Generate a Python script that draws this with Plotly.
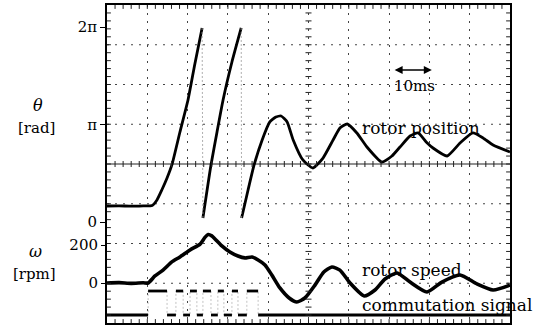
import numpy as np
import plotly.graph_objects as go

PI = np.pi

# ---------------- data ----------------
# time in ms (10 ms / division); rotor position in units of pi (wraps at 2*pi)
theta_t1 = [0, 3, 6, 9, 11.2, 12.4, 13.6, 14.9, 16.1, 18.1, 20.1, 21.8, 23.6]
theta_v1 = [0.164, 0.166, 0.162, 0.165, 0.169, 0.226, 0.328, 0.451, 0.585, 0.923, 1.251, 1.621, 1.990]

theta_t2 = [23.8, 25.8, 27.3, 28.8, 31.0, 33.3]
theta_v2 = [0.041, 0.585, 0.923, 1.251, 1.641, 1.990]

theta_t3 = [33.4, 35.0, 36.5, 38.5, 40.4, 41.9, 43.2, 44.7, 46.2, 48.6, 51.1, 53.6, 56.1,
            57.8, 59.6, 62.0, 64.5, 68.2, 70.7, 72.7, 75.2, 77.2, 79.2, 80.9, 84.4,
            87.6, 90.8, 93.3, 95.8, 100]
theta_v3 = [0.041, 0.328, 0.585, 0.841, 1.026, 1.077, 1.087, 1.026, 0.841, 0.636, 0.554,
            0.656, 0.841, 0.964, 1.005, 0.913, 0.769, 0.615, 0.677, 0.769, 0.882, 0.913,
            0.821, 0.759, 0.677, 0.810, 0.913, 0.862, 0.790, 0.718]

# rotor speed in rpm
speed_t = [0, 3, 6, 9, 10.2, 11.9, 13.9, 16.1, 18.1, 20.6, 23.1, 24.3, 25.1, 26.0, 26.8, 28.5, 30.5,
           32.5, 34.2, 36.0, 37.5, 39.2, 40.9, 42.9, 45.2, 47.1, 49.1, 51.6, 53.8, 55.8,
           57.8, 60.3, 63.8, 66.5, 69.0, 72.0, 75.2, 79.4, 83.1, 87.6, 91.8, 95.8, 100]
speed_v = [0, 2, -2, 1, 0, 37, 68, 111, 137, 174, 205, 240, 255, 248, 232, 195, 163,
           142, 132, 137, 121, 95, 42, -26, -79, -100, -79, -11, 58, 84,
           68, 0, -68, -37, 21, 53, 5, -47, 5, 42, -5, -37, -11]

# commutation signal (digital 0/1); each level holds from its edge time to the next
comm_t = [0, 10.2, 14.9, 17.1, 18.9, 20.6, 22.3, 23.8, 25.8, 27.5, 29.0, 31.0, 32.5, 34.7, 37.5, 100]
comm_v = [0, 1, 0, 1, 0, 1, 0, 1, 0, 1, 0, 1, 0, 1, 0, 0]

theta_ticks = [0, PI, 2 * PI]
theta_ticktext = ["0", "π", "2π"]
speed_ticks = [0, 200]
speed_ticktext = ["0", "200"]

# ---------------- layout constants ----------------
W, H = 538, 326
L, R, T, B = 107, 510, 5, 323       # plot area in pixels
PW, PH = R - L, B - T
FONT = "DejaVu Serif"


def py(ypx):
    return (B - ypx) / PH


def px(xpx):
    return (xpx - L) / PW


fig = go.Figure()

# rotor position
for tt, vv in [(theta_t1, theta_v1), (theta_t2, theta_v2), (theta_t3, theta_v3)]:
    fig.add_trace(go.Scatter(x=tt, y=[v * PI for v in vv], mode="lines",
                             line=dict(color="black", width=2.8, shape="spline", smoothing=0.5),
                             yaxis="y", showlegend=False))
wrap_x = [theta_t1[-1], theta_t2[0], None, theta_t2[-1], theta_t3[0]]
wrap_y = [theta_v1[-1] * PI, theta_v2[0] * PI, None, theta_v2[-1] * PI, theta_v3[0] * PI]
fig.add_trace(go.Scatter(x=wrap_x, y=wrap_y, mode="lines",
                         line=dict(color="#999", width=0.8, dash="2px,2px"),
                         yaxis="y", showlegend=False))

# rotor speed
fig.add_trace(go.Scatter(x=speed_t, y=speed_v, mode="lines",
                         line=dict(color="black", width=3.6, shape="spline", smoothing=0.6),
                         yaxis="y2", showlegend=False))

# commutation signal: faint edges + thick levels
fig.add_trace(go.Scatter(x=comm_t, y=comm_v, mode="lines",
                         line=dict(color="#aaa", width=0.7, shape="hv", dash="2px,2px"),
                         yaxis="y3", showlegend=False))
seg_x, seg_y = [], []
for i in range(len(comm_t) - 1):
    seg_x += [comm_t[i], comm_t[i + 1], None]
    seg_y += [comm_v[i], comm_v[i], None]
fig.add_trace(go.Scatter(x=seg_x, y=seg_y, mode="lines",
                         line=dict(color="black", width=2.8),
                         yaxis="y3", showlegend=False))

# ---------------- grid, centre lines and minor ticks (decoration) ----------------
shapes = []
grid_line = dict(color="#444", width=1, dash="2px,6px")
for k in range(1, 8):
    if k == 4:
        continue
    shapes.append(dict(type="line", xref="paper", yref="paper", x0=0, x1=1, y0=k / 8, y1=k / 8,
                       line=grid_line, layer="below"))
shapes.append(dict(type="line", xref="paper", yref="paper", x0=0, x1=1, y0=0.5, y1=0.5,
                   line=dict(color="#222", width=1), layer="below"))
tick_h = 3 / PH
tick_w = 3 / PW
for i in range(1, 50):
    xp = i / 50
    shapes.append(dict(type="line", xref="paper", yref="paper", x0=xp, x1=xp,
                       y0=0.5 - tick_h, y1=0.5 + tick_h, line=dict(color="#222", width=1)))
    shapes.append(dict(type="line", xref="paper", yref="paper", x0=xp, x1=xp,
                       y0=0, y1=tick_h * 1.3, line=dict(color="#222", width=1)))
    shapes.append(dict(type="line", xref="paper", yref="paper", x0=xp, x1=xp,
                       y0=1 - tick_h * 1.3, y1=1, line=dict(color="#222", width=1)))
for j in range(1, 40):
    yp = j / 40
    shapes.append(dict(type="line", xref="paper", yref="paper", x0=0.5 - tick_w, x1=0.5 + tick_w,
                       y0=yp, y1=yp, line=dict(color="#222", width=1)))
    shapes.append(dict(type="line", xref="paper", yref="paper", x0=0, x1=tick_w * 1.3,
                       y0=yp, y1=yp, line=dict(color="#222", width=1)))
    shapes.append(dict(type="line", xref="paper", yref="paper", x0=1 - tick_w * 1.3, x1=1,
                       y0=yp, y1=yp, line=dict(color="#222", width=1)))

# ---------------- annotations ----------------
ann_font = dict(family=FONT, size=17, color="black")
lab_font = dict(family=FONT, size=15, color="black")
mid = dict(xanchor="center", yanchor="middle", showarrow=False)
annotations = [
    dict(text="<i>θ</i>", xref="paper", yref="paper", x=px(38), y=py(105),
         font=dict(family=FONT, size=16, color="black"), **mid),
    dict(text="[rad]", xref="paper", yref="paper", x=px(36), y=py(128), font=lab_font, **mid),
    dict(text="<i>ω</i>", xref="paper", yref="paper", x=px(35), y=py(252),
         font=dict(family=FONT, size=16, color="black"), **mid),
    dict(text="[rpm]", xref="paper", yref="paper", x=px(34), y=py(274), font=lab_font, **mid),
    dict(text="10ms", xref="x", yref="paper", x=70.8, y=py(86), xanchor="left", yanchor="middle",
         showarrow=False, font=dict(family=FONT, size=15, color="black")),
    dict(text="", xref="x", yref="paper", x=80.6, y=py(70), ax=71.0, axref="x", ay=0, ayref="pixel",
         showarrow=True, arrowhead=2, arrowside="end+start", arrowsize=1, arrowwidth=1.6,
         arrowcolor="black"),
    dict(text="rotor position", xref="x", yref="paper", x=62.8, y=py(128), xanchor="left",
         yanchor="middle", showarrow=False, font=ann_font),
    dict(text="rotor speed", xref="x", yref="paper", x=62.8, y=py(270), xanchor="left",
         yanchor="middle", showarrow=False, font=ann_font),
    dict(text="commutation signal", xref="x", yref="paper", x=62.8, y=py(305), xanchor="left",
         yanchor="middle", showarrow=False, font=ann_font),
]

# axis ranges so that the tick positions match the picture
th0_px, thpi_px = 222.0, 124.5
th_per_px = PI / (th0_px - thpi_px)
theta_range = [(th0_px - B) * th_per_px, (th0_px - T) * th_per_px]
sp0_px, sp200_px = 283.0, 245.0
sp_per_px = 200 / (sp0_px - sp200_px)
speed_range = [(sp0_px - B) * sp_per_px, (sp0_px - T) * sp_per_px]
cm0_px, cm1_px = 315.0, 291.0
cm_per_px = 1 / (cm0_px - cm1_px)
comm_range = [(cm0_px - B) * cm_per_px, (cm0_px - T) * cm_per_px]

tickfont = dict(family=FONT, size=15, color="black")
fig.update_layout(
    width=W, height=H,
    margin=dict(l=L, r=W - R, t=T, b=H - B, pad=0, autoexpand=False),
    paper_bgcolor="white", plot_bgcolor="white",
    font=dict(family=FONT, color="black"),
    showlegend=False,
    xaxis=dict(range=[0, 100], dtick=10, showticklabels=False, ticks="",
               showgrid=True, gridcolor="#444", gridwidth=1, griddash="2px,6px",
               showline=True, linecolor="black", linewidth=1.8, mirror=True, zeroline=False,
               fixedrange=True),
    yaxis=dict(range=theta_range, tickvals=theta_ticks, ticktext=theta_ticktext,
               ticks="outside", ticklen=5, tickwidth=1, tickcolor="black", tickfont=tickfont,
               showgrid=False, zeroline=False, showline=True, linecolor="black",
               linewidth=1.8, mirror=True),
    yaxis2=dict(range=speed_range, tickvals=speed_ticks, ticktext=speed_ticktext,
                overlaying="y", side="left", anchor="x",
                ticks="outside", ticklen=5, tickwidth=1, tickcolor="black", tickfont=tickfont,
                showgrid=False, zeroline=False, showline=False),
    yaxis3=dict(range=comm_range, overlaying="y", visible=False, showgrid=False, zeroline=False),
    shapes=shapes,
    annotations=annotations,
)

fig.write_html("out.html", config={"displayModeBar": False},
               post_script="document.body.style.margin='0';document.body.style.overflow='hidden';")
